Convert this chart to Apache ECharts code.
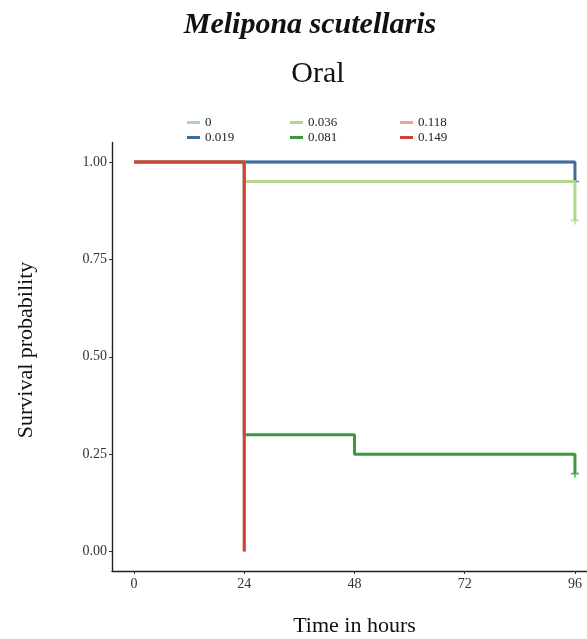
<!DOCTYPE html>
<html>
<head>
<meta charset="utf-8">
<script src="https://cdn.jsdelivr.net/npm/echarts@6/dist/echarts.min.js"></script>
<style>
  html, body { margin: 0; padding: 0; background: #fff; }
  #chart { width: 587px; height: 639px; }
</style>
</head>
<body>
<div id="chart"></div>
<script>
// Kaplan-Meier survival curves, one per dose group: [hours, survival]
const doses = ['0', '0.019', '0.036', '0.081', '0.118', '0.149'];
const curve0   = [[0, 1], [96, 1]];
const curve019 = [[0, 1], [96, 0.95]];
const curve036 = [[0, 1], [24, 0.95], [96, 0.85]];
const curve081 = [[0, 1], [24, 0.30], [48, 0.25], [96, 0.20]];
const curve118 = [[0, 1], [24, 0]];
const curve149 = [[0, 1], [24, 0]];
// censored observations at the end of follow-up
const censor019 = [[96, 0.95]];
const censor036 = [[96, 0.85]];
const censor081 = [[96, 0.20]];

const xTicks = [0, 24, 48, 72, 96];
const yTicks = [0, 0.25, 0.5, 0.75, 1];

const colors = ['#a9cde3', '#3f6f98', '#b3d68a', '#3a9a3a', '#f4a09a', '#d2403a'];
const curves = [curve0, curve019, curve036, curve081, curve118, curve149];
const censors = { '0.019': censor019, '0.036': censor036, '0.081': censor081 };

const serif = '"Liberation Serif", "DejaVu Serif", serif';
const plus = 'path://M4,0h2v4h4v2h-4v4h-2v-4h-4v-2h4z';

const series = [];
doses.forEach((d, i) => {
  series.push({
    name: d, type: 'line', step: 'end', data: curves[i],
    showSymbol: false, symbol: 'none', z: 2 + i,
    lineStyle: { width: 3, color: colors[i] }, itemStyle: { color: colors[i] },
    animation: false
  });
});
Object.keys(censors).forEach(d => {
  const i = doses.indexOf(d);
  series.push({
    name: d, type: 'scatter', data: censors[d], symbol: plus, symbolSize: 8,
    itemStyle: { color: colors[i] }, z: 2 + i, animation: false
  });
});

// legend laid out in two rows, filled column by column
const legendSlots = [
  { d: '0', left: 182, top: 111 }, { d: '0.019', left: 182, top: 126 },
  { d: '0.036', left: 285, top: 111 }, { d: '0.081', left: 285, top: 126 },
  { d: '0.118', left: 395, top: 111 }, { d: '0.149', left: 395, top: 126 }
];
const legends = legendSlots.map(s => ({
  data: [s.d], left: s.left, top: s.top, orient: 'horizontal',
  icon: 'rect', itemWidth: 13, itemHeight: 3, itemGap: 6,
  textStyle: { fontFamily: serif, fontSize: 13, color: '#222' },
  selectedMode: false
}));

const chart = echarts.init(document.getElementById('chart'), null, { renderer: 'canvas' });
chart.setOption({
  backgroundColor: '#fff',
  animation: false,
  title: [
    { text: 'Melipona scutellaris', left: 305, top: 5, textAlign: 'center',
      textStyle: { fontFamily: serif, fontSize: 30, fontWeight: 'bold', fontStyle: 'italic', color: '#111' } },
    { text: 'Oral', left: 313, top: 54, textAlign: 'center',
      textStyle: { fontFamily: serif, fontSize: 30, fontWeight: 'normal', color: '#111' } }
  ],
  legend: legends,
  // vertical axis title
  graphic: [{
    type: 'text', x: 26, y: 350, rotation: Math.PI / 2,
    style: { text: 'Survival probability', fontFamily: serif, fontSize: 22, fill: '#111',
      align: 'center', verticalAlign: 'middle' }
  }],
  grid: { left: 112, width: 485, top: 142.5, height: 428.5, containLabel: false, outerBoundsMode: 'none' },
  xAxis: {
    type: 'value', min: -4.8, max: 100.8,
    name: 'Time in hours', nameLocation: 'middle', nameGap: 44,
    nameTextStyle: { fontFamily: serif, fontSize: 22, color: '#111' },
    axisLine: { show: true, onZero: false, lineStyle: { color: '#222', width: 1.4 } },
    axisTick: { show: true, customValues: xTicks, length: 3, lineStyle: { color: '#333' } },
    axisLabel: { customValues: xTicks, fontFamily: serif, fontSize: 14, color: '#333', margin: 6 },
    splitLine: { show: false }
  },
  yAxis: {
    type: 'value', min: -0.05, max: 1.05,
    axisLine: { show: true, onZero: false, lineStyle: { color: '#222', width: 1.4 } },
    axisTick: { show: true, customValues: yTicks, length: 3, lineStyle: { color: '#333' } },
    axisLabel: { customValues: yTicks, formatter: v => v.toFixed(2),
      fontFamily: serif, fontSize: 14, color: '#333', margin: 5 },
    splitLine: { show: false }
  },
  series: series
});
</script>
</body>
</html>
